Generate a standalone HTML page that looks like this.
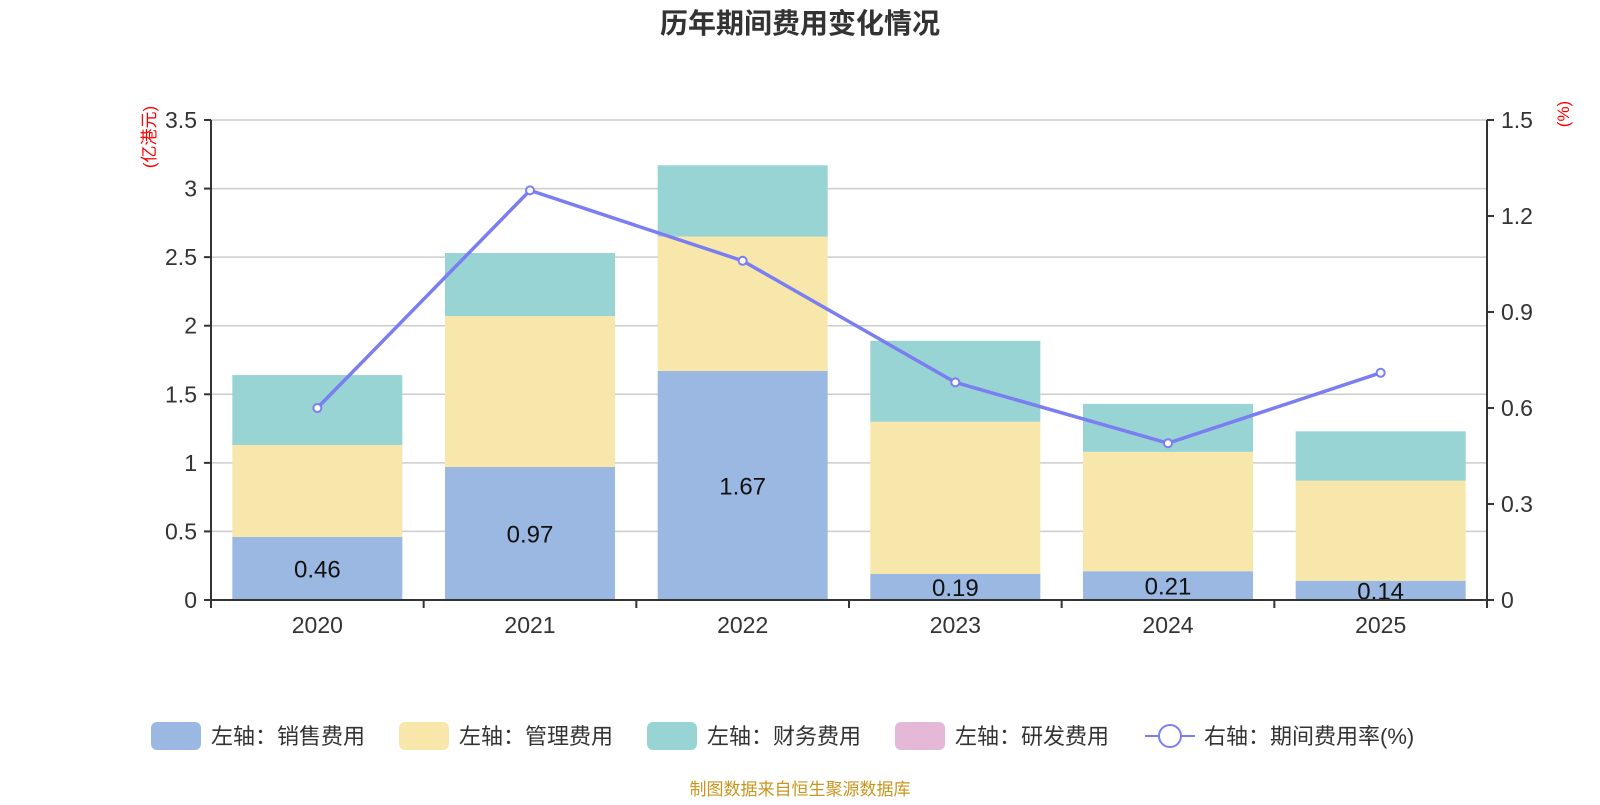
<!DOCTYPE html>
<html><head><meta charset="utf-8"><style>
body{margin:0;background:#fff;width:1600px;height:800px;overflow:hidden;font-family:"Liberation Sans","Noto Sans CJK SC",sans-serif}
</style></head><body>
<svg id="c" width="1600" height="800" xmlns="http://www.w3.org/2000/svg" font-family="Liberation Sans, Noto Sans CJK SC, sans-serif">
<text x="800" y="33" text-anchor="middle" font-size="28" font-weight="bold" fill="#333">历年期间费用变化情况</text>
<text transform="translate(155,137) rotate(-90)" text-anchor="middle" font-size="17" fill="#f00">(亿港元)</text>
<text transform="translate(1569,114) rotate(-90)" text-anchor="middle" font-size="17" fill="#f00">(%)</text>
<g id="grid"></g><g id="bars"></g><g id="axes"></g><g id="line"></g>
<g id="legend" font-size="22" fill="#333"></g>
<text x="800" y="795" text-anchor="middle" font-size="17" fill="#c8961e">制图数据来自恒生聚源数据库</text>
</svg>
<script>
const categories=["2020","2021","2022","2023","2024","2025"];
const sales=[0.46,0.97,1.67,0.19,0.21,0.14];
const mgmt=[0.67,1.10,0.98,1.11,0.87,0.73];
const fin=[0.51,0.46,0.52,0.59,0.35,0.36];
const rd=[0,0,0,0,0,0];
const rate=[0.60,1.28,1.06,0.68,0.49,0.71];
const leftTicks=[0,0.5,1,1.5,2,2.5,3,3.5];
const rightTicks=[0,0.3,0.6,0.9,1.2,1.5];
const X0=211,X1=1487,Y0=600,Y1=120;
const NS="http://www.w3.org/2000/svg";
const bw=(X1-X0)/categories.length;
const xc=i=>X0+bw*(i+0.5);
const yl=v=>Y0-(v/3.5)*(Y0-Y1);
const yr=v=>Y0-(v/1.5)*(Y0-Y1);
function mk(p,tag,a){const e=document.createElementNS(NS,tag);for(const k in a)e.setAttribute(k,a[k]);document.getElementById(p).appendChild(e);return e;}
leftTicks.forEach(t=>{
 const l=mk('grid','line',{x1:X0,x2:X1,y1:yl(t),y2:yl(t),stroke:'#ccc','stroke-width':1.5});
 
 
 const tk=mk('axes','line',{x1:X0-7,x2:X0,y1:yl(t),y2:yl(t),stroke:'#333','stroke-width':2});
 
 
 const tx=mk('axes','text',{x:X0-14,y:yl(t)+8,'text-anchor':'end','font-size':23,fill:'#333'});
 tx.textContent=t;
 
 
});
rightTicks.forEach(t=>{
 const tk=mk('axes','line',{x1:X1,x2:X1+7,y1:yr(t),y2:yr(t),stroke:'#333','stroke-width':2});
 
 
 const tx=mk('axes','text',{x:X1+14,y:yr(t)+8,'font-size':23,fill:'#333'});
 tx.textContent=t;
 
 
});
[[X0,Y1,X0,Y0+8],[X1,Y1,X1,Y0+8],[X0,Y0,X1,Y0]].forEach(a=>{
 const l=mk('axes','line',{x1:a[0],y1:a[1],x2:a[2],y2:a[3],stroke:'#333','stroke-width':2});
 
 
});
for(let i=0;i<=categories.length;i++){
 const l=mk('axes','line',{x1:X0+bw*i,x2:X0+bw*i,y1:Y0,y2:Y0+8,stroke:'#333','stroke-width':2});
 
 
}
const series=[[sales,'#9bb8e2','sales'],[mgmt,'#f8e7aa','mgmt'],[fin,'#98d4d4','finance'],[rd,'#e6b8d8','rd']];
categories.forEach((c,i)=>{
 const tx=mk('axes','text',{x:xc(i),y:Y0+33,'text-anchor':'middle','font-size':23,fill:'#333'});
 tx.textContent=c;
 
 
 let base=0;
 series.forEach(s=>{
  const v=s[0][i];
  if(v>0){
   const r=mk('bars','rect',{x:xc(i)-85,width:170,y:yl(base+v),height:yl(base)-yl(base+v),fill:s[1]});
   
   
  }
  base+=v;
 });
 const lb=mk('bars','text',{x:xc(i),y:yl(sales[i]/2)+9,'text-anchor':'middle','font-size':24,fill:'#111'});
 lb.textContent=sales[i].toFixed(2);
 
 
});
const pl=mk('line','polyline',{points:rate.map((v,i)=>xc(i)+','+yr(v)).join(' '),fill:'none',stroke:'#7b7ef0','stroke-width':3.5});


rate.forEach((v,i)=>{
 const p=mk('line','circle',{cx:xc(i),cy:yr(v),r:4,fill:'#fff',stroke:'#7b7ef0','stroke-width':2});
 
 
});
const leg=[['左轴：销售费用','#9bb8e2',151],['左轴：管理费用','#f8e7aa',399],['左轴：财务费用','#98d4d4',647],['左轴：研发费用','#e6b8d8',895]];
leg.forEach(l=>{
 const r=mk('legend','rect',{x:l[2],y:722,width:50,height:28,rx:6,fill:l[1]});
 
 
 const t=mk('legend','text',{x:l[2]+60,y:744});
 t.textContent=l[0];
 
 
});
const ll=mk('legend','line',{x1:1145,x2:1195,y1:736,y2:736,stroke:'#7b7ef0','stroke-width':2});


const lc=mk('legend','circle',{cx:1170,cy:736,r:11,fill:'#fff',stroke:'#7b7ef0','stroke-width':2});


const lt=mk('legend','text',{x:1204,y:744});
lt.textContent='右轴：期间费用率(%)';


</script>
</body></html>
